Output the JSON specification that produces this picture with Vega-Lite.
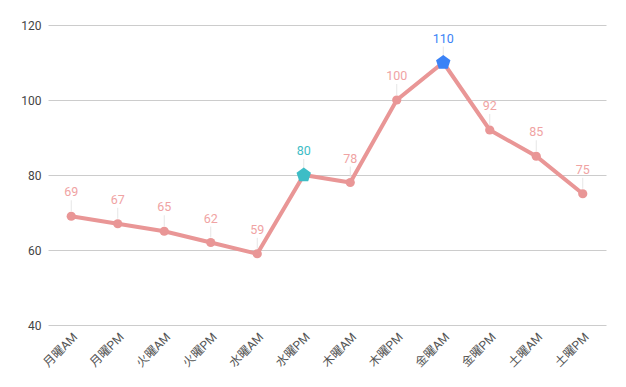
{
  "$schema": "https://vega.github.io/schema/vega-lite/v6.json",
  "width": 558,
  "height": 300,
  "autosize": "none",
  "padding": {"left": 48, "top": 25, "right": 20, "bottom": 62},
  "config": {
    "view": {"stroke": null},
    "font": "Roboto, 'Noto Sans CJK JP'",
    "background": "white"
  },
  "data": {
    "values": [
      {"slot": "月曜AM", "value": 69, "kind": "normal"},
      {"slot": "月曜PM", "value": 67, "kind": "normal"},
      {"slot": "火曜AM", "value": 65, "kind": "normal"},
      {"slot": "火曜PM", "value": 62, "kind": "normal"},
      {"slot": "水曜AM", "value": 59, "kind": "normal"},
      {"slot": "水曜PM", "value": 80, "kind": "teal"},
      {"slot": "木曜AM", "value": 78, "kind": "normal"},
      {"slot": "木曜PM", "value": 100, "kind": "normal"},
      {"slot": "金曜AM", "value": 110, "kind": "blue"},
      {"slot": "金曜PM", "value": 92, "kind": "normal"},
      {"slot": "土曜AM", "value": 85, "kind": "normal"},
      {"slot": "土曜PM", "value": 75, "kind": "normal"}
    ]
  },
  "encoding": {
    "x": {
      "field": "slot", "type": "ordinal", "sort": null,
      "scale": {"type": "point", "padding": 0.5},
      "axis": {"title": null, "labelAngle": -45, "ticks": false, "domain": false, "grid": false,
               "labelFontSize": 12, "labelColor": "#555555", "labelPadding": 6}
    },
    "y": {
      "field": "value", "type": "quantitative",
      "scale": {"domain": [40, 120], "nice": false, "zero": false},
      "axis": {"title": null, "values": [40, 60, 80, 100, 120], "ticks": false, "domain": false,
               "gridColor": "#cccccc", "labelFontSize": 12, "labelColor": "#444444", "labelPadding": 7}
    }
  },
  "layer": [
    {
      "mark": {"type": "rule", "yOffset": -5, "y2Offset": -16, "color": "#e6e6e6", "strokeWidth": 1},
      "encoding": {"y2": {"field": "value"}}
    },
    {
      "mark": {"type": "line", "color": "#e99696", "strokeWidth": 4}
    },
    {
      "transform": [{"filter": "datum.kind === 'normal'"}],
      "mark": {"type": "point", "shape": "circle", "filled": true, "opacity": 1, "size": 85, "color": "#e99696"}
    },
    {
      "transform": [{"filter": "datum.kind !== 'normal'"}],
      "mark": {"type": "point", "shape": "M0,-1L0.951,-0.309L0.588,0.809L-0.588,0.809L-0.951,-0.309Z", "filled": true, "opacity": 1, "size": 230},
      "encoding": {
        "color": {"field": "kind", "type": "nominal", "scale": {"domain": ["normal", "teal", "blue"], "range": ["#f0a3a3", "#3dbdc6", "#3b82f6"]}, "legend": null}
      }
    },
    {
      "mark": {"type": "text", "baseline": "bottom", "dy": -17, "fontSize": 12.5},
      "encoding": {
        "text": {"field": "value", "type": "quantitative"},
        "color": {"field": "kind", "type": "nominal", "scale": {"domain": ["normal", "teal", "blue"], "range": ["#f0a3a3", "#3dbdc6", "#3b82f6"]}, "legend": null}
      }
    }
  ]
}
